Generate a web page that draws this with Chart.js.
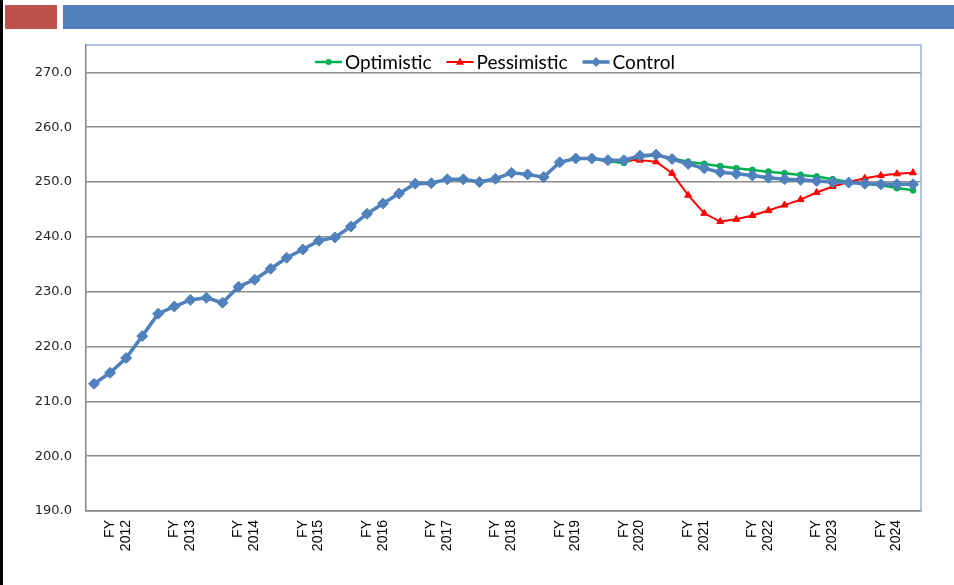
<!DOCTYPE html>
<html>
<head>
<meta charset="utf-8">
<script src="https://cdn.jsdelivr.net/npm/chart.js@4/dist/chart.umd.min.js"></script>
<style>
  html, body { margin: 0; padding: 0; background: #ffffff; }
  body { width: 954px; height: 585px; position: relative; overflow: hidden; }
  #leftline { position: absolute; left: 0; top: 0; width: 3px; height: 585px; background: #000000; }
  #redbox { position: absolute; left: 5px; top: 5px; width: 52px; height: 24px; background: #C0504D; }
  #bluebar { position: absolute; left: 63px; top: 5px; width: 891px; height: 24px; background: #4F81BD; }
  #wrap { position: absolute; left: 0; top: 0; width: 954px; height: 585px; }
</style>
</head>
<body>
<div id="wrap"><canvas id="c" width="954" height="585"></canvas></div>
<div id="leftline"></div>
<div id="redbox"></div>
<div id="bluebar"></div>
<script>
// ---- data ----
const fiscalYears = ["2012","2013","2014","2015","2016","2017","2018","2019","2020","2021","2022","2023","2024"];
const quarters = ["Q1","Q2","Q3","Q4"];
const seriesNames = ["Optimistic", "Pessimistic", "Control"];

const control = [
  213.2, 215.2, 217.9, 221.9, 226.0, 227.3, 228.5, 228.9,
  228.0, 230.9, 232.2, 234.2, 236.2, 237.7, 239.3, 239.9,
  241.9, 244.2, 246.1, 247.9, 249.7, 249.8, 250.5, 250.5,
  250.0, 250.6, 251.7, 251.4, 250.9, 253.6, 254.3, 254.3,
  254.0, 254.0, 254.8, 255.0, 254.2, 253.3, 252.5, 251.8,
  251.5, 251.2, 250.8, 250.5, 250.4, 250.2, 250.0, 249.9,
  249.7, 249.6, 249.6, 249.6
];
const optimistic = [
  213.2, 215.2, 217.9, 221.9, 226.0, 227.3, 228.5, 228.9,
  228.0, 230.9, 232.2, 234.2, 236.2, 237.7, 239.3, 239.9,
  241.9, 244.2, 246.1, 247.9, 249.7, 249.8, 250.5, 250.5,
  250.0, 250.6, 251.7, 251.4, 250.9, 253.6, 254.3, 254.3,
  253.8, 253.5, 254.6, 254.9, 254.3, 253.7, 253.3, 252.9,
  252.5, 252.2, 251.9, 251.6, 251.3, 251.0, 250.5, 250.0,
  249.7, 249.4, 248.9, 248.5
];
const pessimistic = [
  213.2, 215.2, 217.9, 221.9, 226.0, 227.3, 228.5, 228.9,
  228.0, 230.9, 232.2, 234.2, 236.2, 237.7, 239.3, 239.9,
  241.9, 244.2, 246.1, 247.9, 249.7, 249.8, 250.5, 250.5,
  250.0, 250.6, 251.7, 251.4, 250.9, 253.6, 254.3, 254.3,
  253.9, 254.0, 254.0, 253.7, 251.6, 247.6, 244.3, 242.8,
  243.2, 243.9, 244.8, 245.8, 246.8, 248.1, 249.2, 250.0,
  250.7, 251.2, 251.5, 251.7
];
const yTickValues = [190, 200, 210, 220, 230, 240, 250, 260, 270];

// categories: one per quarter
const categories = [];
fiscalYears.forEach(y => quarters.forEach(q => categories.push("FY " + y + " " + q)));

const COLORS = { opt: "#00B050", pes: "#FF0000", ctl: "#4F81BD" };

// ---- marker drawing for custom legend ----
function drawMarker(ctx, style, x, y, r, color) {
  ctx.save();
  ctx.fillStyle = color;
  ctx.strokeStyle = color;
  ctx.beginPath();
  if (style === "circle") {
    ctx.arc(x, y, r, 0, Math.PI * 2);
  } else if (style === "triangle") {
    ctx.moveTo(x, y - r);
    ctx.lineTo(x + r * 0.9, y + r * 0.6);
    ctx.lineTo(x - r * 0.9, y + r * 0.6);
    ctx.closePath();
  } else {
    ctx.moveTo(x, y - r);
    ctx.lineTo(x + r, y);
    ctx.lineTo(x, y + r);
    ctx.lineTo(x - r, y);
    ctx.closePath();
  }
  ctx.fill();
  ctx.restore();
}

const framePlugin = {
  id: "frame",
  beforeDatasetsDraw(chart) {
    const { ctx, chartArea: a } = chart;
    ctx.save();
    ctx.strokeStyle = "#95B3D7";
    ctx.lineWidth = 1.5;
    ctx.beginPath();
    ctx.moveTo(a.left, a.top);
    ctx.lineTo(a.right, a.top);
    ctx.lineTo(a.right, a.bottom);
    ctx.stroke();
    ctx.restore();
  }
};

const legendPlugin = {
  id: "customLegend",
  afterDraw(chart) {
    const ctx = chart.ctx;
    const ds = chart.data.datasets;
    ctx.save();
    ctx.font = "19px Lato";
    ctx.textBaseline = "middle";
    ctx.textAlign = "left";
    const lineLen = 27, gapLT = 3, gapItems = 15;
    let total = 0;
    const widths = ds.map(d => ctx.measureText(d.label).width);
    widths.forEach((w, i) => { total += lineLen + gapLT + w + (i < widths.length - 1 ? gapItems : 0); });
    let x = 495 - total / 2;
    const y = 62;
    ds.forEach((d, i) => {
      ctx.strokeStyle = d.borderColor;
      ctx.lineWidth = d.borderWidth;
      ctx.beginPath();
      ctx.moveTo(x, y);
      ctx.lineTo(x + lineLen, y);
      ctx.stroke();
      const r = d.pointStyle === "rectRot" ? 5 : (d.pointStyle === "triangle" ? 4.5 : 3);
      drawMarker(ctx, d.pointStyle === "rectRot" ? "diamond" : d.pointStyle, x + lineLen / 2, y, r, d.borderColor);
      ctx.fillStyle = "#000000";
      ctx.fillText(d.label, x + lineLen + gapLT, y + 1);
      x += lineLen + gapLT + widths[i] + gapItems;
    });
    ctx.restore();
  }
};

new Chart(document.getElementById("c"), {
  type: "line",
  data: {
    labels: categories,
    datasets: [
      {
        label: seriesNames[0], data: optimistic, order: 2,
        borderColor: COLORS.opt, backgroundColor: COLORS.opt, borderWidth: 2.5,
        pointStyle: "circle", pointRadius: 3, pointBorderWidth: 1, tension: 0
      },
      {
        label: seriesNames[1], data: pessimistic, order: 1,
        borderColor: COLORS.pes, backgroundColor: COLORS.pes, borderWidth: 2,
        pointStyle: "triangle", pointRadius: 4, pointBorderWidth: 1, tension: 0
      },
      {
        label: seriesNames[2], data: control, order: 0,
        borderColor: COLORS.ctl, backgroundColor: COLORS.ctl, borderWidth: 3.5,
        pointStyle: "rectRot", pointRadius: 5.5, pointBorderWidth: 1, tension: 0
      }
    ]
  },
  options: {
    responsive: false,
    animation: false,
    devicePixelRatio: 1,
    layout: { padding: { left: 0, top: 45, right: 33, bottom: 0 } },
    plugins: { legend: { display: false }, tooltip: { enabled: false } },
    scales: {
      x: {
        type: "category",
        offset: true,
        grid: { display: false, drawTicks: false },
        border: { display: true, color: "#868686", width: 1.5 },
        ticks: {
          autoSkip: false,
          minRotation: 90,
          maxRotation: 90,
          padding: 9,
          color: "#000000",
          font: { family: "Liberation Sans", size: 14, lineHeight: 1.12 },
          callback: function (value, index) {
            return index % 4 === 1 ? ["FY", fiscalYears[(index - 1) / 4]] : "";
          }
        },
        afterFit(scale) { scale.height = 74; }
      },
      y: {
        min: 190,
        max: 275,
        grid: { color: "#8C8C8C", lineWidth: 1.5, drawTicks: false },
        border: { display: true, color: "#868686", width: 1.5 },
        afterBuildTicks(scale) {
          scale.ticks = yTickValues.map(v => ({ value: v }));
        },
        ticks: {
          padding: 14,
          color: "#262626",
          font: { family: "DejaVu Sans", size: 13 },
          callback: v => Number(v).toFixed(1)
        },
        afterFit(scale) { scale.width = 86; }
      }
    }
  },
  plugins: [framePlugin, legendPlugin]
});
</script>
</body>
</html>
